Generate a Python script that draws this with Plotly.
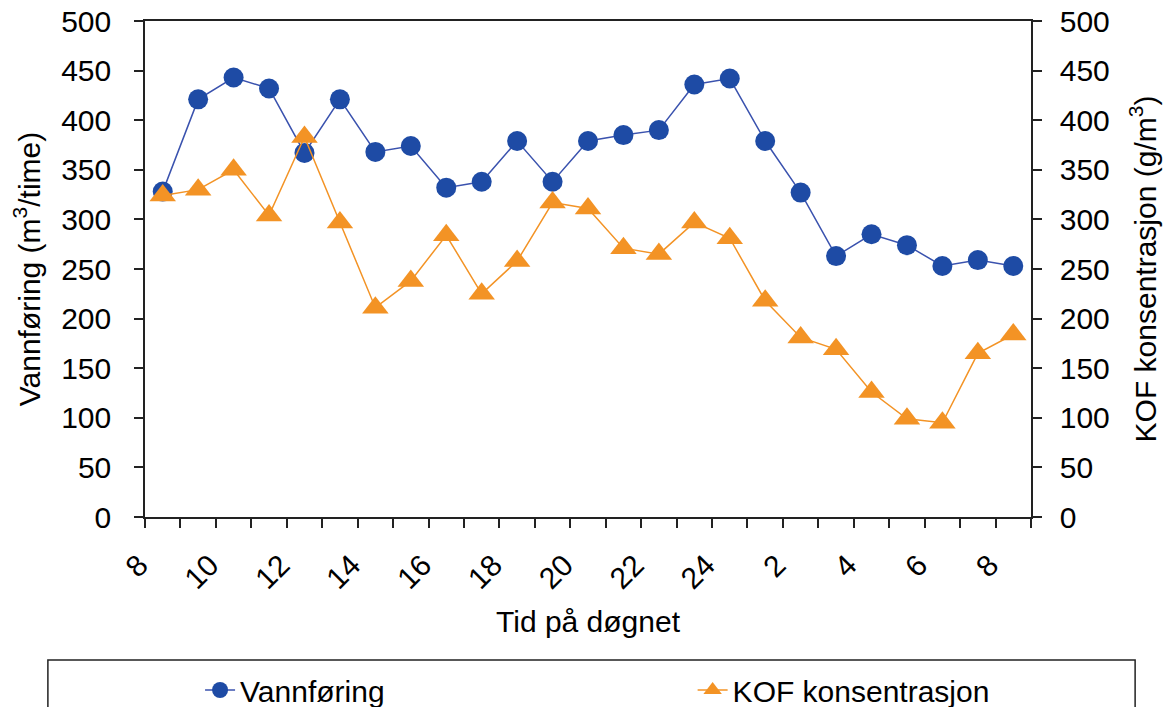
import plotly.graph_objects as go

# start hour of each hourly interval (points plotted mid-interval)
hours = [8, 9, 10, 11, 12, 13, 14, 15, 16, 17, 18, 19, 20, 21, 22, 23, 24,
         1, 2, 3, 4, 5, 6, 7, 8]
vannforing = [328, 421, 443, 432, 367, 421, 368, 374, 332, 338, 379, 338, 379,
              385, 390, 436, 442, 379, 327, 263, 285, 274, 253, 259, 253]
kof = [324, 330, 350, 304, 383, 297, 211, 238, 284, 225, 258, 317, 311,
       271, 265, 297, 281, 218, 181, 169, 126, 99, 95, 165, 184]
y_ticks = [0, 50, 100, 150, 200, 250, 300, 350, 400, 450, 500]

n = len(hours)
x_mid = [i + 0.5 for i in range(n)]
boundaries = list(range(n + 1))
boundary_txt = [(str(hours[i]) + "\u00a0") if (i < n and i % 2 == 0) else "" for i in boundaries]

FONT = "Arial, Liberation Sans, sans-serif"
BLUE = "#1E4BA5"
BLUE_LINE = "#3A52AE"
ORANGE = "#F39325"
AX = "#222222"

fig = go.Figure()
fig.add_trace(go.Scatter(
    x=x_mid, y=vannforing, name="Vannføring", mode="lines+markers", legend="legend",
    line=dict(color=BLUE_LINE, width=1.5),
    marker=dict(symbol="circle", size=20, color=BLUE),
))
fig.add_trace(go.Scatter(
    x=x_mid, y=kof, name="KOF konsentrasjon", mode="lines+markers", yaxis="y2",
    legend="legend2",
    line=dict(color=ORANGE, width=1.5),
    marker=dict(symbol="triangle-up", size=23, color=ORANGE),
))

axis_font = dict(family=FONT, size=30, color="black")
leg_common = dict(orientation="h", yanchor="top", xanchor="left", y=-(664 - 517) / 496,
                  font=dict(family=FONT, size=30, color="black"),
                  bgcolor="rgba(0,0,0,0)", borderwidth=0)

fig.update_layout(
    width=1172, height=707,
    margin=dict(l=145, r=141, t=21, b=190, autoexpand=False),
    paper_bgcolor="white", plot_bgcolor="white",
    font=dict(family=FONT, size=30, color="black"),
    showlegend=True,
    legend=dict(x=(200 - 145) / 885, **leg_common),
    legend2=dict(x=(692 - 145) / 885, **leg_common),
    xaxis=dict(
        range=[0, n], tickmode="array", tickvals=boundaries, ticktext=boundary_txt,
        tickangle=-45, ticks="outside", ticklen=9, tickcolor=AX, tickwidth=1.5,
        tickfont=axis_font, automargin=False, ticklabelstandoff=2,
        showline=True, linecolor=AX, linewidth=1.5, mirror=True,
        showgrid=False, zeroline=False,
        title=dict(text="Tid på døgnet", font=axis_font, standoff=17),
    ),
    yaxis=dict(
        range=[0, 500], tickmode="array", tickvals=y_ticks, ticks="outside", ticklen=9,
        tickcolor=AX, tickwidth=1.5, tickfont=axis_font, ticklabelstandoff=17,
        automargin=False,
        showline=True, linecolor=AX, linewidth=1.5, showgrid=False, zeroline=False,
        title=dict(text="Vannføring (m<sup>3</sup>/time)", font=axis_font, standoff=12),
    ),
    yaxis2=dict(
        range=[0, 500], tickmode="array", tickvals=y_ticks, ticks="outside", ticklen=9,
        tickcolor=AX, tickwidth=1.5, tickfont=axis_font, ticklabelstandoff=12,
        overlaying="y", side="right", automargin=False,
        showline=True, linecolor=AX, linewidth=1.5, showgrid=False, zeroline=False,
        title=dict(text="KOF konsentrasjon (g/m<sup>3</sup>)", font=axis_font, standoff=26),
    ),
    shapes=[dict(type="rect", xref="paper", yref="paper",
                 x0=(48 - 145) / 885, x1=(1134 - 145) / 885,
                 y0=-(720 - 517) / 496, y1=-(660 - 517) / 496,
                 line=dict(color=AX, width=1.5), fillcolor="rgba(0,0,0,0)", layer="below")],
)

fig.write_html("out.html")
